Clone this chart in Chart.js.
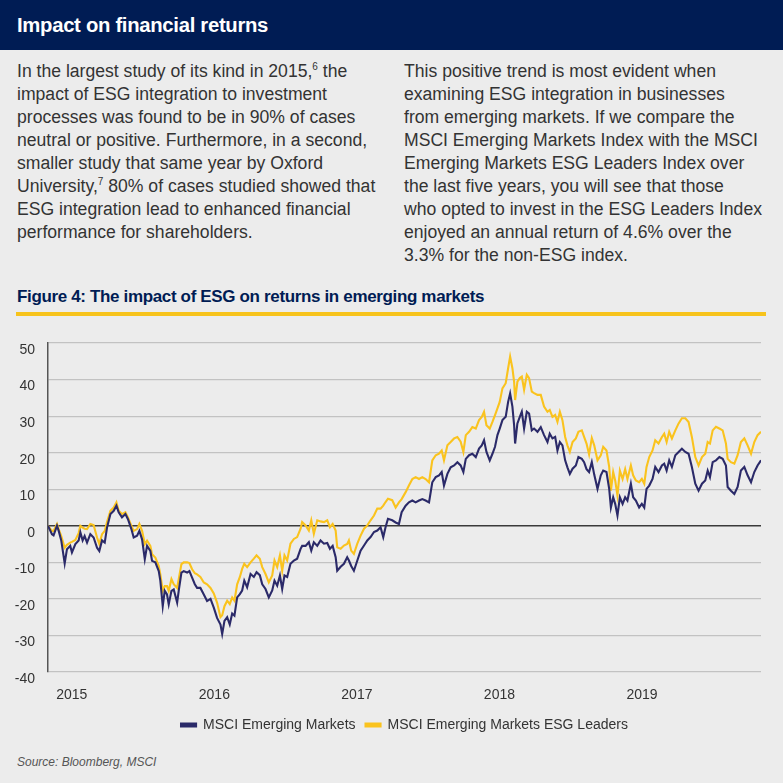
<!DOCTYPE html>
<html>
<head>
<meta charset="utf-8">
<script src="https://cdn.jsdelivr.net/npm/chart.js@4.4.1/dist/chart.umd.min.js"></script>
<style>
  html, body { margin: 0; padding: 0; }
  body { width: 783px; height: 783px; background: #ECECEC; position: relative; overflow: hidden;
         font-family: "Liberation Sans", Arial, sans-serif; }
  #header { position: absolute; left: 0; top: 0; width: 783px; height: 50px; background: #001C54; }
  #header h1 { position: absolute; left: 17px; top: 12px; margin: 0; color: #fff; font-size: 20.3px;
               font-weight: bold; letter-spacing: -0.3px; line-height: 26px; }
  .col { position: absolute; top: 60px; margin: 0; color: #333; font-size: 17.6px; line-height: 23px; white-space: nowrap; }
  .col sup { font-size: 10px; line-height: 0; vertical-align: 7px; }
  #left { left: 17px; }
  #right { left: 404px; }
  #figtitle { position: absolute; left: 17px; top: 287px; margin: 0; color: #001C54; font-size: 17px;
              font-weight: bold; letter-spacing: -0.35px; white-space: nowrap; }
  #rule { position: absolute; left: 16px; top: 312px; width: 750px; height: 4px; background: #F7C31B; }
  #chartbox { position: absolute; left: 0; top: 330px; width: 783px; height: 414px; }
  #source { position: absolute; left: 17px; top: 755px; color: #555; font-size: 12px; font-style: italic; }
</style>
</head>
<body>
<div id="header"><h1>Impact on financial returns</h1></div>
<p class="col" id="left">In the largest study of its kind in 2015,<sup>6</sup> the<br>impact of ESG integration to investment<br>processes was found to be in 90% of cases<br>neutral or positive. Furthermore, in a second,<br>smaller study that same year by Oxford<br>University,<sup>7</sup> 80% of cases studied showed that<br>ESG integration lead to enhanced financial<br>performance for shareholders.</p>
<p class="col" id="right">This positive trend is most evident when<br>examining ESG integration in businesses<br>from emerging markets. If we compare the<br>MSCI Emerging Markets Index with the MSCI<br>Emerging Markets ESG Leaders Index over<br>the last five years, you will see that those<br>who opted to invest in the ESG Leaders Index<br>enjoyed an annual return of 4.6% over the<br>3.3% for the non-ESG index.</p>
<div id="figtitle">Figure 4: The impact of ESG on returns in emerging markets</div>
<div id="rule"></div>
<div id="chartbox"><canvas id="c"></canvas></div>
<div id="source">Source: Bloomberg, MSCI</div>
<script>
// Dates as decimal years
const dates = [
2014.833,2014.861,2014.872,2014.896,2014.908,2014.926,2014.950,2014.966,2014.989,2015.001,
2015.025,2015.048,2015.060,2015.076,2015.090,2015.107,2015.130,2015.153,2015.177,2015.193,
2015.212,2015.231,2015.247,2015.271,2015.294,2015.313,2015.329,2015.352,2015.376,2015.394,
2015.418,2015.434,2015.458,2015.474,2015.493,2015.512,2015.528,2015.551,2015.563,2015.586,
2015.610,2015.621,2015.638,2015.652,2015.668,2015.680,2015.699,2015.715,2015.739,2015.750,
2015.769,2015.785,2015.809,2015.825,2015.844,2015.863,2015.879,2015.902,2015.926,2015.949,
2015.973,2015.996,2016.019,
2016.043,2016.055,2016.071,2016.090,2016.108,2016.125,2016.141,2016.160,2016.179,2016.195,
2016.210,2016.230,2016.254,2016.277,2016.296,2016.319,2016.336,2016.359,2016.382,2016.406,
2016.422,2016.441,2016.460,2016.476,2016.492,2016.511,2016.534,2016.558,2016.581,2016.605,
2016.616,2016.640,2016.663,2016.680,2016.698,2016.722,2016.745,2016.769,2016.792,2016.811,
2016.830,2016.851,2016.862,2016.886,2016.909,2016.932,2016.944,2016.960,2016.979,2017.003,
2017.026,2017.050,2017.073,2017.096,2017.120,2017.143,2017.166,2017.185,2017.201,2017.218,
2017.248,
2017.272,2017.295,2017.314,2017.342,2017.365,2017.389,2017.412,2017.436,2017.459,2017.482,
2017.506,2017.529,2017.553,2017.576,2017.595,2017.611,2017.635,2017.658,2017.682,2017.705,
2017.728,2017.747,2017.764,2017.787,2017.810,2017.834,2017.857,2017.876,2017.892,2017.909,
2017.932,2017.951,2017.969,2017.986,2018.002,2018.021,2018.044,2018.061,2018.075,2018.091,
2018.103,2018.110,2018.126,2018.143,2018.157,2018.173,2018.192,2018.208,2018.227,2018.243,
2018.267,2018.290,2018.313,2018.337,2018.353,2018.372,2018.391,2018.407,2018.424,2018.442,
2018.461,2018.477,2018.494,2018.513,2018.536,
2018.554,2018.578,2018.594,2018.611,2018.629,2018.648,2018.665,2018.688,2018.711,2018.728,
2018.751,2018.770,2018.782,2018.798,2018.812,2018.828,2018.845,2018.864,2018.882,2018.898,
2018.922,2018.938,2018.957,2018.980,2018.999,2019.016,2019.032,2019.051,2019.074,2019.093,
2019.116,2019.140,2019.156,2019.173,2019.191,2019.210,2019.234,2019.257,2019.280,2019.304,
2019.327,2019.350,2019.374,2019.397,2019.421,2019.444,2019.461,2019.477,2019.496,2019.519,
2019.543,2019.566,2019.589,2019.601,2019.624,2019.648,2019.671,2019.694,2019.718,2019.741,
2019.765,2019.788,2019.811,2019.835
];

// MSCI Emerging Markets (cumulative % return)
const msciEM = [
0,-2.3,-2.6,0,-1.4,-4,-10.3,-6.4,-5.5,-7.3,
-5,-4,-1.8,-4,-2.8,-4.6,-2.3,-3.2,-6,-6.9,
-4,-4.6,-0.5,3.2,4.1,5.5,3.7,2.3,3.2,1.8,
-0.9,-3.2,-2.7,-1.4,-3.7,-9.1,-5.5,-6.9,-9.6,-10,
-12.4,-15,-22,-17.8,-18.8,-21.5,-17.8,-17.4,-21,-17.8,
-12.8,-12.4,-12.8,-12.4,-14.2,-16,-17,-17,-18.8,-20.6,
-20,-22.4,-25.2,
-27,-29.6,-26,-25,-27,-24,-24.6,-19.6,-18.7,-17.7,
-15,-16.8,-13.2,-14,-12.7,-13.5,-16,-17.3,-19.6,-17.7,
-15,-16.4,-13.6,-17.3,-13.6,-14,-10.4,-9.5,-9,-6.3,
-5.5,-5.5,-4.5,-6.8,-4.5,-5.5,-4,-4.9,-4.7,-6.3,
-5.5,-8.6,-12.3,-11.2,-10.4,-8.6,-9.5,-11,-12.3,-9.5,
-6.8,-5.4,-4,-3.1,-1.7,-1.3,-0.4,-3.1,-0.4,1.9,
1.5,
0.9,0.5,3.7,5.5,6.4,6.9,6.4,6.9,7.3,6.9,
6.4,11.9,13.3,13.8,14.7,11,14.2,16,16.5,17.4,
16.5,14.7,18.3,19.3,19.7,18.8,21.1,22,23.4,20.2,
17.9,19.7,21.6,24.8,26.6,28.9,29.8,33.9,36.2,32.6,
27.5,22.5,28,29.8,31.2,26.6,31.2,30.7,26.1,26.6,
25.7,27,24.8,22.9,25.2,23.9,24.3,20.6,22.9,22,
17.9,16,14.2,15.6,16.5,
18.8,18.3,17.4,15.5,14.7,17.4,14,10.1,13.8,15.1,
14.7,10.1,5,7.8,6,2.8,7.8,6,7.8,6.9,
11.5,7.8,6.9,5,6,5,10.1,11,12.8,16.1,
14.7,16.5,17,15.1,17.9,16.1,19.3,20.2,21.1,20.2,
19.7,16.1,11.5,9.6,11.5,12.4,15.1,13.3,17.4,17.9,
18.8,18.3,16.5,10.6,9.6,8.7,10.6,15.1,16.1,13.8,
11.9,14.7,16.5,17.9
];

// MSCI Emerging Markets ESG Leaders (cumulative % return)
const msciESG = [
0,-1.4,-1.4,0.5,-0.9,-2.8,-6,-5.2,-4.6,-4.4,
-3.9,-2,0,-0.5,-0.8,-0.9,0.5,0.2,-3.2,-5,
-2.3,-1.4,1,4.1,5,6.4,4.1,3.2,3.7,2.3,
0,-1.4,-0.9,0.5,-1.4,-5,-4.1,-5.5,-7.8,-8.7,
-11,-13.3,-17.8,-16.5,-16.5,-17.8,-14.6,-16,-17,-14.6,
-10.5,-10,-10,-10.2,-11.9,-13,-13.3,-14,-15.5,-16,
-17,-18.5,-21,
-25,-24.5,-22,-20.5,-21.4,-19.6,-20.5,-16,-14,-11.8,
-10.4,-11.3,-10,-9,-8.1,-9,-11.3,-13.2,-15.5,-13.6,
-9.5,-11.3,-8.1,-12.3,-8.1,-9.5,-4.9,-3.6,-3.1,-0.8,
1,0.1,-1.3,1.5,-2.2,1.5,1.2,1,1.5,-0.4,
0.5,-1.3,-5.9,-6.3,-5.4,-5,-4,-6.8,-7.7,-4.9,
-2.7,-0.8,0.1,1.5,2.8,4.7,4.7,5.5,6.5,7.4,
7,
5,6.4,7.3,9.2,11,12.8,13.3,12.8,13.3,12.8,
11.9,17.9,19.3,19.7,20.6,17.9,22,22.9,23.9,24.3,
23,20.2,24.8,25.7,27,26.6,28.9,29.8,31.2,27.5,
26.6,28.4,30.3,32.1,33.9,37.6,39,43.1,46.3,43.1,
39.4,34.4,39.4,40.4,40.8,37.2,41.3,40.4,36.7,36.3,
35.8,35.8,32.6,31.2,31.7,29.8,30.3,28.4,31.2,28.9,
24.3,22,20.2,22.9,23.9,
25.7,26.1,24.3,22.5,19.5,24,22,17.9,19.3,21.6,
20.6,16.1,9.6,14.7,12.4,8.3,15.1,12.8,15.5,12.8,
16.5,13.8,12.4,11.9,12.8,11.5,16.1,18.8,20.6,23.4,
22.5,24.3,25.2,22.9,25.7,23.9,26.1,28,29.4,29.4,
28.4,24.3,18.8,16.5,18.8,19.7,22.9,22.5,26.1,27.1,
26.6,26.1,22.5,18.3,17.4,17,19.3,22.9,23.9,22,
19.7,22.9,24.8,25.7
];

const yearTicks = [2015, 2016, 2017, 2018, 2019];
const yTicksMin = -40, yTicksMax = 50, yStep = 10;
const seriesNames = ['MSCI Emerging Markets', 'MSCI Emerging Markets ESG Leaders'];

const toPoints = vals => dates.map((d, i) => ({ x: d, y: vals[i] }));
const FONT = '"Liberation Sans", Arial, sans-serif';

new Chart(document.getElementById('c'), {
  type: 'line',
  data: {
    datasets: [
      { label: seriesNames[0], data: toPoints(msciEM), borderColor: '#2B2A69', backgroundColor: '#2B2A69',
        borderWidth: 2.1, pointRadius: 0, tension: 0 },
      { label: seriesNames[1], data: toPoints(msciESG), borderColor: '#FAC31E', backgroundColor: '#FAC31E',
        borderWidth: 2.1, pointRadius: 0, tension: 0 }
    ]
  },
  options: {
    responsive: true,
    maintainAspectRatio: false,
    animation: false,
    layout: { autoPadding: false, padding: { top: 13, right: 22, left: 0, bottom: 2 } },
    plugins: {
      tooltip: { enabled: false },
      legend: {
        position: 'bottom',
        fullSize: false,
        labels: {
          boxWidth: 15, boxHeight: 3, padding: 10,
          color: '#333',
          font: { family: FONT, size: 14 }
        }
      }
    },
    scales: {
      x: {
        type: 'linear',
        min: dates[0],
        max: dates[dates.length - 1],
        grid: { display: false, drawTicks: false },
        border: { display: false },
        afterBuildTicks: s => { s.ticks = yearTicks.map(v => ({ value: v })); },
        afterFit: s => { s.height = 36; s.paddingLeft = 0; s.paddingRight = 0; },
        ticks: {
          padding: 15, color: '#333', autoSkip: false, maxRotation: 0,
          font: { family: FONT, size: 14 },
          callback: v => String(v)
        }
      },
      y: {
        min: yTicksMin, max: yTicksMax,
        afterFit: s => { s.width = 48; s.paddingTop = 0; s.paddingBottom = 0; },
        grid: {
          drawTicks: false,
          color: ctx => ctx.tick && ctx.tick.value === 0 ? '#3a3a3a' : '#c2c2c2',
          lineWidth: ctx => ctx.tick && ctx.tick.value === 0 ? 1.4 : 1.2
        },
        border: { display: true, color: '#555', width: 1.5 },
        ticks: {
          stepSize: yStep, padding: 13, color: '#333',
          font: { family: FONT, size: 14, lineHeight: 1 },
          // blank first line pushes the value just below its gridline, as in the original
          callback: v => ['', String(v)]
        }
      }
    }
  }
});
</script>
</body>
</html>
